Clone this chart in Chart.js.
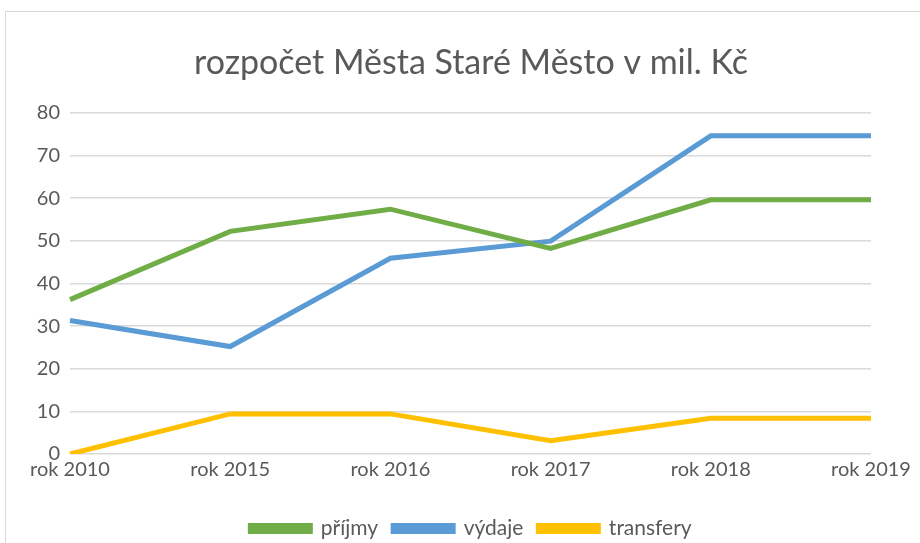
<!DOCTYPE html>
<html>
<head>
<meta charset="utf-8">
<script src="https://cdn.jsdelivr.net/npm/chart.js@4"></script>
<style>
  html, body { margin: 0; padding: 0; background: #fff; overflow: hidden; }
  #wrap { width: 942px; height: 549px; position: relative; }
</style>
</head>
<body>
<div id="wrap"><canvas id="budget-chart"></canvas></div>
<script>
const years = ['rok 2010', 'rok 2015', 'rok 2016', 'rok 2017', 'rok 2018', 'rok 2019'];
const prijmy = [36.2, 52.2, 57.4, 48.2, 59.6, 59.6];
const vydaje = [31.3, 25.2, 45.9, 49.9, 74.6, 74.6];
const transfery = [0, 9.4, 9.4, 3.1, 8.4, 8.4];

const FONT = "Lato, 'Open Sans', sans-serif";
const TEXT = '#595959';

// thin grey frame round the whole chart, like the office export
const framePlugin = {
    id: 'frame',
    beforeDraw(chart) {
        const c = chart.ctx;
        c.save();
        c.fillStyle = '#ffffff';
        c.fillRect(0, 0, chart.width, chart.height);
        c.strokeStyle = '#d9d9d9';
        c.lineWidth = 1;
        c.strokeRect(5.5, 11.5, chart.width, chart.height);
        c.restore();
    }
};

function line(label, data, color) {
    return {
        label: label,
        data: data,
        borderColor: color,
        backgroundColor: color,
        borderWidth: 5,
        pointRadius: 0,
        tension: 0,
        borderCapStyle: 'butt'
    };
}

const ctx = document.getElementById('budget-chart').getContext('2d');
new Chart(ctx, {
    type: 'line',
    data: {
        labels: years,
        datasets: [
            line('příjmy', prijmy, '#70AD47'),
            line('výdaje', vydaje, '#5B9BD5'),
            line('transfery', transfery, '#FFC000')
        ]
    },
    options: {
        responsive: true,
        maintainAspectRatio: false,
        animation: false,
        layout: { padding: 0 },
        scales: {
            x: {
                offset: false,
                grid: { display: false, drawTicks: false },
                border: { display: false },
                afterFit(scale) { scale.height = 49; },
                ticks: {
                    color: TEXT,
                    font: { family: FONT, size: 20 },
                    maxRotation: 0,
                    padding: 4
                }
            },
            y: {
                min: 0,
                max: 80,
                afterFit(scale) { scale.width = 70; },
                grid: { color: '#d9d9d9', lineWidth: 1.5, drawTicks: false },
                border: { display: false },
                ticks: {
                    stepSize: 10,
                    color: TEXT,
                    font: { family: FONT, size: 20 },
                    padding: 10
                }
            },
            // empty spacer on the right so the plot ends where the reference does
            spacer: {
                type: 'linear',
                position: 'right',
                grid: { display: false },
                border: { display: false },
                ticks: { display: false },
                afterFit(scale) { scale.width = 71; }
            }
        },
        plugins: {
            title: {
                display: true,
                text: 'rozpočet Města Staré Město v mil. Kč',
                color: TEXT,
                font: { family: FONT, size: 34, weight: 'normal' },
                padding: { top: 43, bottom: 29 }
            },
            legend: {
                position: 'bottom',
                labels: {
                    color: TEXT,
                    font: { family: FONT, size: 21 },
                    boxWidth: 60,
                    boxHeight: 6,
                    padding: 15
                }
            },
            tooltip: { enabled: false }
        }
    },
    plugins: [framePlugin]
});
</script>
</body>
</html>
